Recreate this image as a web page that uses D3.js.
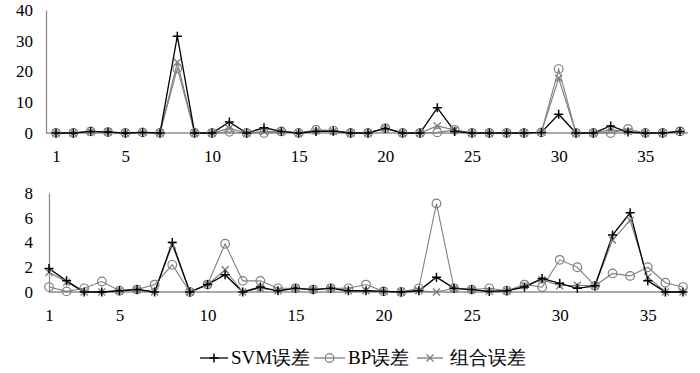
<!DOCTYPE html>
<html>
<head>
<meta charset="utf-8">
<script src="https://cdn.jsdelivr.net/npm/d3@7"></script>
<style>
  body { margin: 0; background: #fff; }
</style>
</head>
<body>
<div id="chart"></div>
<script>
// sample index 1..37
const categories = [1,2,3,4,5,6,7,8,9,10,11,12,13,14,15,16,17,18,19,20,
                    21,22,23,24,25,26,27,28,29,30,31,32,33,34,35,36,37];
const xTickLabels = [1, 5, 10, 15, 20, 25, 30, 35];

// upper panel
const topTicks = [0, 10, 20, 30, 40];
const topSvm   = [0,0,0.5,0.3,0,0.2,0,31.5,0,0,3.6,0,1.7,0.5,0,0.5,0.6,0,0,1.5,0,0,8.2,0.5,0,0,0,0,0.2,6.1,0,0,2.3,0.3,0,0,0.5];
const topBp    = [0,0,0.5,0.3,0,0.2,0,21,0,0,0.4,0,0,0.5,0,1.0,0.8,0,0,1.6,0,0,0.2,1.0,0,0,0,0,0.2,20.8,0,0,0,1.3,0,0,0.5];
const topCombo = [0,0,0.5,0.3,0,0.2,0,23,0,0,1.5,0,0.5,0.5,0,0.7,0.6,0,0,1.5,0,0,2.3,1.0,0,0,0,0,0.2,17.8,0,0,1.0,0.5,0,0,0.6];

// lower panel
const bottomTicks = [0, 2, 4, 6, 8];
const bottomSvm   = [1.9,0.9,0,0,0.1,0.2,0,4.0,0,0.6,1.4,0,0.4,0.1,0.3,0.2,0.3,0.1,0.1,0.05,0,0.1,1.2,0.3,0.2,0.05,0.1,0.4,1.1,0.7,0.3,0.5,4.6,6.4,0.9,0,0];
const bottomBp    = [0.4,0.05,0.3,0.85,0.1,0.2,0.6,2.2,0,0.6,3.9,0.9,0.9,0.3,0.3,0.2,0.3,0.3,0.6,0.05,0,0.3,7.15,0.3,0.2,0.3,0.1,0.6,0.4,2.6,2.0,0.5,1.5,1.3,2.0,0.75,0.4];
const bottomCombo = [1.6,0.8,0,0,0.1,0.2,0,3.8,0,0.6,1.8,0,0.3,0.1,0.3,0.2,0.3,0.1,0.1,0.05,0,0.1,0,0.3,0.2,0.05,0.1,0.5,1.0,0.5,0.55,0.5,4.2,5.8,1.2,0,0];

const seriesNames = ["SVM误差", "BP误差", "组合误差"];
const seriesColors = ["#000000", "#808080", "#7a7a7a"];
const seriesShapes = ["plus", "circle", "cross"];

const FONT = "Times New Roman, serif";

const svg = d3.select("#chart").append("svg")
    .attr("width", 700)
    .attr("height", 373)
    .style("font-family", FONT);

function drawMarker(g, shape, x, y, color) {
    if (shape === "plus") {
        g.append("path")
            .attr("d", `M${x-4.5},${y}H${x+4.5}M${x},${y-4.5}V${y+4.5}`)
            .attr("stroke", color).attr("stroke-width", 1.5).attr("fill", "none");
    } else if (shape === "circle") {
        g.append("circle")
            .attr("cx", x).attr("cy", y).attr("r", 4.3)
            .attr("stroke", color).attr("stroke-width", 1.2).attr("fill", "none");
    } else {
        g.append("path")
            .attr("d", `M${x-3.5},${y-3.5}L${x+3.5},${y+3.5}M${x-3.5},${y+3.5}L${x+3.5},${y-3.5}`)
            .attr("stroke", color).attr("stroke-width", 1.3).attr("fill", "none");
    }
}

function panel(cfg) {
    const g = svg.append("g");

    const x = d3.scalePoint()
        .domain(categories)
        .range(cfg.xRange);

    const y = d3.scaleLinear()
        .domain([0, d3.max(cfg.ticks)])
        .range(cfg.yRange);

    // value axis
    g.append("g")
        .attr("transform", `translate(${cfg.axisX},0)`)
        .call(d3.axisLeft(y).tickValues(cfg.ticks).tickSize(0).tickPadding(cfg.yPad))
        .attr("font-family", null).attr("font-size", null)
        .call(a => a.select(".domain").attr("stroke", "#8c8c8c").attr("stroke-width", 1.3))
        .call(a => a.selectAll("text").attr("fill", "#000")
            .style("font-family", FONT).style("font-size", "17px"));

    // category axis labels
    g.append("g")
        .attr("transform", `translate(0,${cfg.yRange[0]})`)
        .call(d3.axisBottom(x).tickValues(xTickLabels).tickSize(0).tickPadding(17))
        .attr("font-family", null).attr("font-size", null)
        .call(a => a.select(".domain").remove())
        .call(a => a.selectAll("text").attr("fill", "#000")
            .style("font-family", FONT).style("font-size", "17px"));

    // baseline
    g.append("line")
        .attr("x1", cfg.axisX).attr("x2", cfg.lineEnd)
        .attr("y1", y(0)).attr("y2", y(0))
        .attr("stroke", "#8c8c8c").attr("stroke-width", 1.3);

    // grey series first so the black one sits on top
    const order = [2, 1, 0];
    order.forEach(i => {
        const line = d3.line()
            .x((d, j) => x(categories[j]))
            .y(d => y(d));
        g.append("path")
            .datum(cfg.series[i])
            .attr("d", line)
            .attr("fill", "none")
            .attr("stroke", seriesColors[i])
            .attr("stroke-width", i === 0 ? 1.3 : 1.1);
    });
    order.forEach(i => {
        cfg.series[i].forEach((v, j) => {
            drawMarker(g, seriesShapes[i], x(categories[j]), y(v), seriesColors[i]);
        });
    });
}

panel({
    xRange: [56, 680],
    yRange: [133, 10],
    axisX: 46,
    yPad: 13,
    lineEnd: 688,
    ticks: topTicks,
    series: [topSvm, topBp, topCombo]
});

panel({
    xRange: [49, 683],
    yRange: [292, 193],
    axisX: 49,
    yPad: 16,
    lineEnd: 687,
    ticks: bottomTicks,
    series: [bottomSvm, bottomBp, bottomCombo]
});

// legend
const legend = svg.append("g");
const legendItems = [
    {lineX: 200, lineW: 28, textX: 231},
    {lineX: 314, lineW: 31, textX: 348},
    {lineX: 417, lineW: 26, textX: 450}
];
const legendY = 358;
legendItems.forEach((it, i) => {
    legend.append("line")
        .attr("x1", it.lineX).attr("x2", it.lineX + it.lineW)
        .attr("y1", legendY).attr("y2", legendY)
        .attr("stroke", seriesColors[i]).attr("stroke-width", 1.3);
    drawMarker(legend, seriesShapes[i], it.lineX + it.lineW / 2, legendY, seriesColors[i]);
    legend.append("text")
        .attr("x", it.textX)
        .attr("y", legendY + 6)
        .attr("fill", "#000")
        .style("font-family", FONT)
        .style("font-size", "19px")
        .text(seriesNames[i]);
});
</script>
</body>
</html>
